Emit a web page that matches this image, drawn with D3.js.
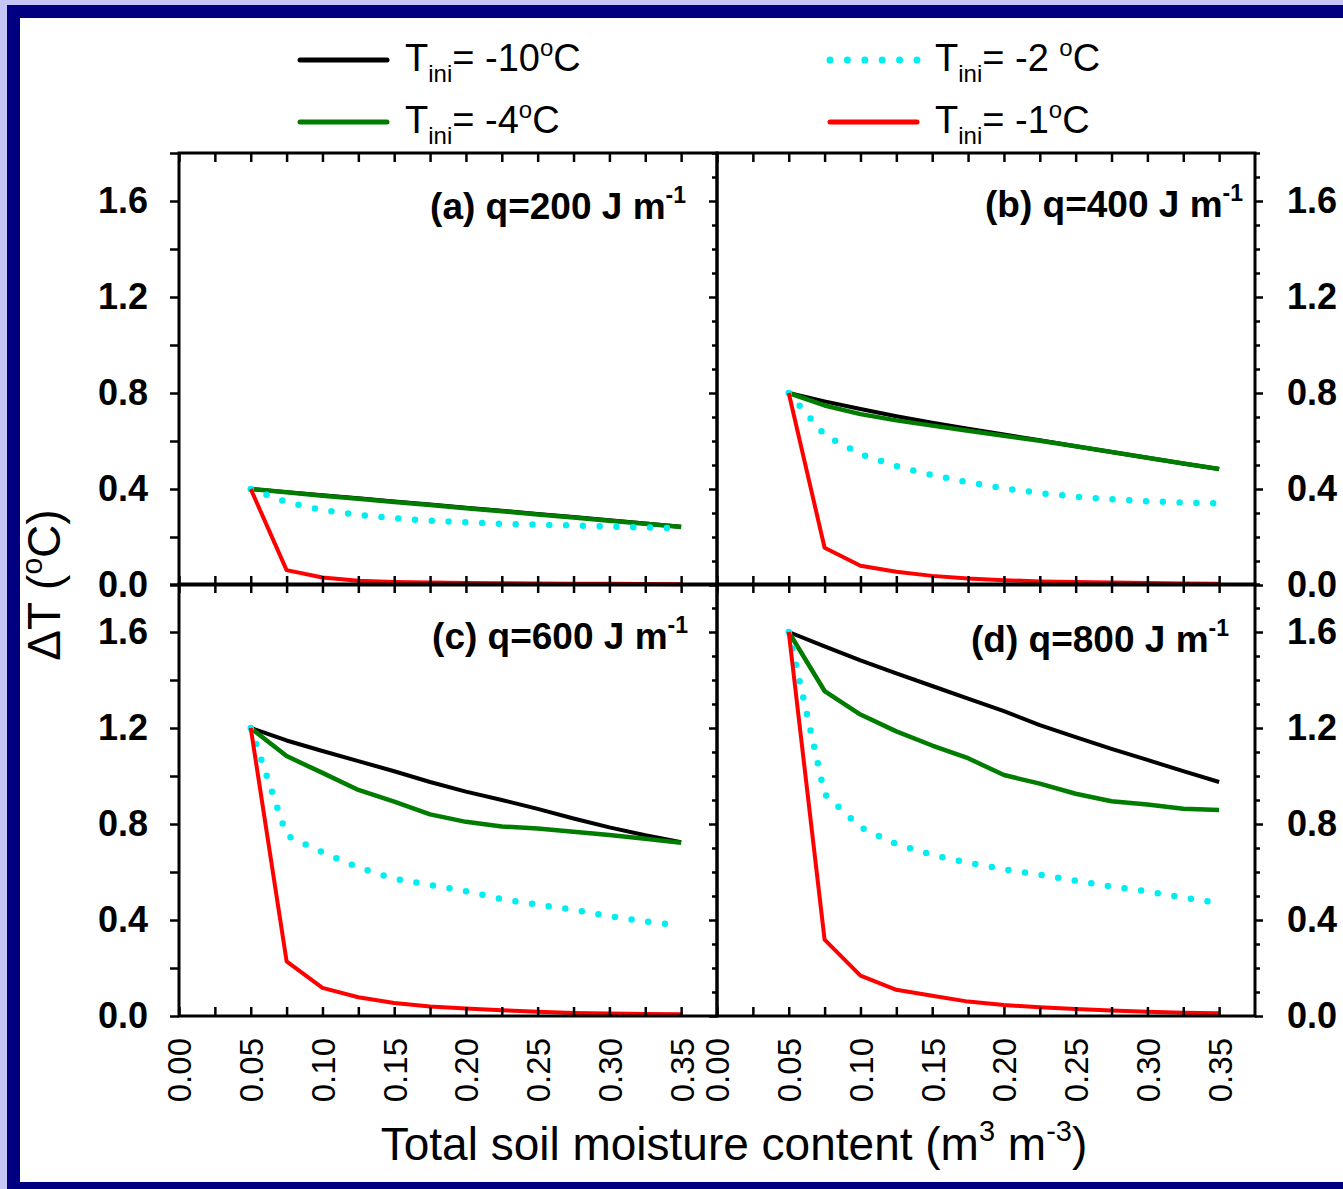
<!DOCTYPE html>
<html>
<head>
<meta charset="utf-8">
<script src="https://cdn.jsdelivr.net/npm/d3@7"></script>
<style>
body { margin: 0; background: #fff; }
text { font-family: Arial, "Liberation Sans", sans-serif; fill: #000; }
</style>
</head>
<body>
<svg width="1343" height="1189"></svg>
<script>
// total soil moisture content (m3 m-3)
var moisture = [0.05, 0.075, 0.1, 0.125, 0.15, 0.175, 0.2, 0.225, 0.25, 0.275, 0.3, 0.325, 0.35];

// (a) q=200
var a_m10 = [0.40, 0.387, 0.374, 0.361, 0.348, 0.335, 0.322, 0.309, 0.296, 0.283, 0.270, 0.256, 0.243];
var a_m4  = [0.40, 0.386, 0.372, 0.359, 0.346, 0.333, 0.320, 0.307, 0.294, 0.281, 0.268, 0.255, 0.242];
var a_m2  = [0.40, 0.345, 0.312, 0.292, 0.278, 0.268, 0.261, 0.255, 0.251, 0.248, 0.243, 0.240, 0.235];
var a_m1  = [0.40, 0.062, 0.031, 0.018, 0.013, 0.010, 0.008, 0.007, 0.006, 0.005, 0.005, 0.004, 0.003];
// (b) q=400
var b_m10 = [0.80, 0.765, 0.733, 0.703, 0.676, 0.651, 0.627, 0.603, 0.578, 0.554, 0.530, 0.506, 0.483];
var b_m4  = [0.80, 0.748, 0.712, 0.686, 0.664, 0.643, 0.622, 0.601, 0.578, 0.554, 0.530, 0.506, 0.483];
var b_m2  = [0.80, 0.625, 0.545, 0.495, 0.458, 0.428, 0.403, 0.383, 0.368, 0.357, 0.349, 0.343, 0.340];
var b_m1  = [0.80, 0.155, 0.080, 0.055, 0.038, 0.027, 0.020, 0.015, 0.012, 0.010, 0.008, 0.006, 0.005];
// (c) q=600
var c_m10 = [1.20, 1.148, 1.104, 1.062, 1.020, 0.975, 0.935, 0.900, 0.863, 0.823, 0.786, 0.753, 0.724];
var c_m4  = [1.20, 1.083, 1.013, 0.942, 0.893, 0.840, 0.809, 0.790, 0.781, 0.768, 0.754, 0.739, 0.722];
var c_m2  = [1.20, 0.752, 0.682, 0.619, 0.572, 0.546, 0.520, 0.487, 0.464, 0.443, 0.416, 0.394, 0.377];
var c_m1  = [1.20, 0.228, 0.117, 0.078, 0.054, 0.040, 0.031, 0.024, 0.018, 0.013, 0.010, 0.008, 0.007];
// (d) q=800
var d_m10 = [1.60, 1.540, 1.482, 1.428, 1.375, 1.322, 1.270, 1.212, 1.162, 1.113, 1.067, 1.020, 0.975];
var d_m4  = [1.60, 1.354, 1.256, 1.186, 1.127, 1.074, 1.004, 0.968, 0.926, 0.895, 0.881, 0.864, 0.858];
var d_m2  = [1.60, 0.925, 0.786, 0.716, 0.671, 0.639, 0.611, 0.589, 0.564, 0.539, 0.519, 0.494, 0.470];
var d_m1  = [1.60, 0.318, 0.168, 0.109, 0.084, 0.060, 0.046, 0.036, 0.029, 0.023, 0.018, 0.014, 0.011];

var panelTitles = ["(a) q=200 J m", "(b) q=400 J m", "(c) q=600 J m", "(d) q=800 J m"];
var panelData = [[a_m10, a_m4, a_m2, a_m1], [b_m10, b_m4, b_m2, b_m1],
                 [c_m10, c_m4, c_m2, c_m1], [d_m10, d_m4, d_m2, d_m1]];
var legendTemps = ["-10", "-4", "-2 ", "-1"];
var colors = ["#000000", "#007c00", "#00eef2", "#ff0000"];

var xTicks = d3.range(0, 15).map(function (i) { return i * 0.025; });
var xLabels = d3.range(0, 8).map(function (i) { return i * 0.05; });
var yTicks01 = d3.range(0, 19).map(function (i) { return i / 10; });
var yTicks02 = d3.range(0, 10).map(function (i) { return i / 5; });

var svg = d3.select("svg");

// frame
svg.append("rect").attr("width", 1343).attr("height", 1189).attr("fill", "#c6c6f6");
svg.append("rect").attr("x", 7).attr("y", 5).attr("width", 1343).attr("height", 1189).attr("fill", "#000080");
svg.append("rect").attr("x", 20).attr("y", 18).attr("width", 1343).attr("height", 1164).attr("fill", "#fff");

var pw = 538, ph = 432;
var colX = [179, 717], rowY = [153, 584];
var titleX = [686, 1243, 688, 1229], titleY = [219, 217, 649, 652];

var x = d3.scaleLinear().domain([0, 0.375]).range([0, pw]);
var y = d3.scaleLinear().domain([0, 1.8]).range([ph, 0]);

var line = d3.line()
    .x(function (d, j) { return x(moisture[j]); })
    .y(function (d) { return y(d); });

function isMajorY(d) { return Math.round(d * 10) % 4 === 0; }

function cleanAxis(g) {
    g.attr("font-size", null).attr("font-family", null);
    g.select(".domain").remove();
    g.selectAll(".tick line").attr("stroke", "#000").attr("stroke-width", 2.5);
}

panelData.forEach(function (series, i) {
    var col = i % 2, row = Math.floor(i / 2);
    var g = svg.append("g").attr("transform", "translate(" + colX[col] + "," + rowY[row] + ")");

    series.forEach(function (vals, k) {
        var p = g.append("path")
            .datum(vals)
            .attr("d", line)
            .attr("fill", "none")
            .attr("stroke", colors[k])
            .attr("stroke-width", k === 1 ? 4.5 : 4)
            .attr("stroke-linejoin", "round");
        if (k === 2) {
            p.attr("stroke-width", 6.5).attr("stroke-linecap", "round").attr("stroke-dasharray", "0,16.8");
        }
    });

    // x axes
    g.append("g").call(d3.axisTop(x).tickValues(xTicks).tickSize(-9).tickFormat("").tickSizeOuter(0)).call(cleanAxis);
    g.append("g").attr("transform", "translate(0," + ph + ")")
        .call(d3.axisBottom(x).tickValues(xTicks).tickSize(-9).tickFormat("").tickSizeOuter(0)).call(cleanAxis);

    if (row === 1) {
        var lab = g.append("g").attr("transform", "translate(0," + ph + ")")
            .call(d3.axisBottom(x).tickValues(xLabels).tickSize(0).tickFormat(d3.format(".2f")));
        lab.call(cleanAxis);
        lab.selectAll("text")
            .attr("transform", "rotate(-90)")
            .attr("x", -22).attr("y", 0).attr("dy", "0.36em")
            .attr("text-anchor", "end")
            .style("font-size", "33px");
    }

    // y axes
    if (col === 0) {
        var ly = g.append("g")
            .call(d3.axisLeft(y).tickValues(yTicks02).tickSize(9).tickPadding(22)
                .tickFormat(function (d) { return isMajorY(d) ? d3.format(".1f")(d) : ""; }));
        ly.call(cleanAxis);
        ly.selectAll("text").style("font-size", "36px").style("font-weight", "bold");
        var ry = g.append("g").attr("transform", "translate(" + pw + ",0)")
            .call(d3.axisRight(y).tickValues(yTicks01).tickSize(-5).tickFormat(""));
        ry.call(cleanAxis);
        ry.selectAll(".tick line").attr("x2", function (d) { return isMajorY(d) ? -8 : -5; });
    } else {
        var ry2 = g.append("g").attr("transform", "translate(" + pw + ",0)")
            .call(d3.axisRight(y).tickValues(yTicks01).tickSize(8).tickPadding(24)
                .tickFormat(function (d) { return isMajorY(d) ? d3.format(".1f")(d) : ""; }));
        ry2.call(cleanAxis);
        ry2.selectAll(".tick line").attr("x2", function (d) { return isMajorY(d) ? 8 : 5; });
        ry2.selectAll("text").style("font-size", "36px").style("font-weight", "bold");
    }

    g.append("rect").attr("width", pw).attr("height", ph)
        .attr("fill", "none").attr("stroke", "#000").attr("stroke-width", 3);

    var t = svg.append("text")
        .attr("x", titleX[i]).attr("y", titleY[i])
        .attr("text-anchor", "end")
        .style("font-size", "37px").style("font-weight", "bold")
        .text(panelTitles[i]);
    t.append("tspan").attr("dy", -16).style("font-size", "23px").text("-1");
});

// legend
var legX = [300, 830], legY = [60, 122];
legendTemps.forEach(function (tmp, k) {
    var lx = legX[k >= 2 ? 1 : 0], ly = legY[k % 2];
    var l = svg.append("line")
        .attr("x1", lx).attr("x2", lx + 87).attr("y1", ly).attr("y2", ly)
        .attr("stroke", colors[k]).attr("stroke-width", 5).attr("stroke-linecap", "round");
    if (k === 2) l.attr("stroke-width", 7).attr("stroke-dasharray", "0,17.4");
    var t = svg.append("text").attr("x", lx + 105).attr("y", ly + 11).style("font-size", "38px");
    t.append("tspan").text("T");
    t.append("tspan").attr("dy", 11).style("font-size", "24px").text("ini");
    t.append("tspan").attr("dy", -11).text("= " + tmp);
    t.append("tspan").attr("dy", -15).style("font-size", "24px").text("o");
    t.append("tspan").attr("dy", 15).text("C");
});

// axis titles
var yl = svg.append("text")
    .attr("transform", "translate(60,585) rotate(-90)")
    .attr("text-anchor", "middle")
    .style("font-size", "46px");
yl.append("tspan").text("\u0394T (");
yl.append("tspan").attr("dy", -18).style("font-size", "30px").text("o");
yl.append("tspan").attr("dy", 18).text("C)");

var xl = svg.append("text")
    .attr("x", 734).attr("y", 1160)
    .attr("text-anchor", "middle")
    .style("font-size", "46px");
xl.append("tspan").text("Total soil moisture content (m");
xl.append("tspan").attr("dy", -19).style("font-size", "29px").text("3");
xl.append("tspan").attr("dy", 19).text(" m");
xl.append("tspan").attr("dy", -19).style("font-size", "29px").text("-3");
xl.append("tspan").attr("dy", 19).text(")");
</script>
</body>
</html>
